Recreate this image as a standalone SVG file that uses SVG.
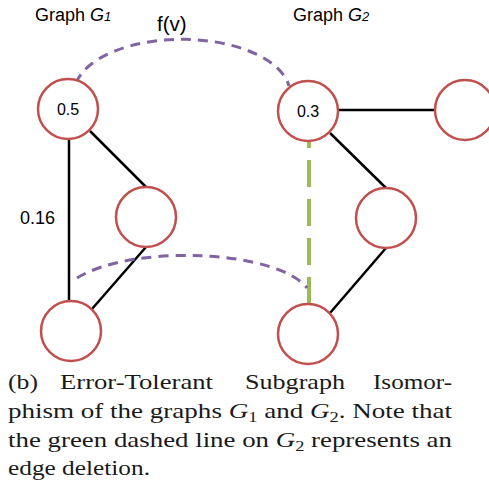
<svg xmlns="http://www.w3.org/2000/svg" width="489" height="489" viewBox="0 0 489 489">
<style>
.edge{stroke:#000;stroke-width:2.5;fill:none}
.map{stroke:#8064A2;stroke-width:3;fill:none;stroke-dasharray:10 7}
.del{stroke:#9BBB59;stroke-width:4;fill:none;stroke-dasharray:27 12}
.node circle{fill:#fff;stroke:#C0504D;stroke-width:2.5}
.lbl{font-family:"Liberation Sans",Arial,sans-serif;fill:#000}
.cap{font-family:"Liberation Serif","Times New Roman",serif;font-size:22px;fill:#1a1a1a}
</style>
<rect width="489" height="489" fill="#fff"/>
<g id="titles" class="lbl">
<text x="35" y="21" font-size="18">Graph <tspan font-style="italic">G</tspan><tspan font-style="italic" font-size="13">1</tspan></text>
<text x="293" y="21" font-size="18">Graph <tspan font-style="italic">G</tspan><tspan font-style="italic" font-size="13">2</tspan></text>
</g>
<g id="connectors">
<line class="edge" x1="69" y1="139" x2="69" y2="301"/>
<line class="edge" x1="90" y1="131" x2="146" y2="187"/>
<line class="edge" x1="146" y1="247" x2="92" y2="309"/>
<line class="edge" x1="338" y1="110" x2="435" y2="110"/>
<line class="edge" x1="330" y1="133" x2="386" y2="188"/>
<line class="edge" x1="386" y1="248" x2="330" y2="313"/>
<line class="del" x1="309" y1="304" x2="309" y2="142"/>
<path class="map" d="M76,83 A108,54 0 0 1 289,86"/>
<path class="map" d="M77,278 A125,44 0 0 1 307,288"/>
<text class="lbl" x="157" y="31" font-size="20.5">f(v)</text>
<text class="lbl" x="20" y="224" font-size="18">0.16</text>
</g>
<g id="nodeA" class="node"><circle cx="68" cy="109" r="30"/><text class="lbl" x="68" y="115" font-size="16" text-anchor="middle">0.5</text></g>
<g id="nodeD" class="node"><circle cx="146" cy="217" r="30"/></g>
<g id="nodeE" class="node"><circle cx="71" cy="331" r="30"/></g>
<g id="nodeB" class="node"><circle cx="308" cy="111" r="30"/><text class="lbl" x="308" y="117" font-size="16" text-anchor="middle">0.3</text></g>
<g id="nodeC" class="node"><circle cx="465" cy="110" r="30"/></g>
<g id="nodeF" class="node"><circle cx="386" cy="218" r="30"/></g>
<g id="nodeG" class="node"><circle cx="308" cy="334" r="30"/></g>
<g id="caption" class="cap">
<text x="8" y="389" textLength="30" lengthAdjust="spacingAndGlyphs">(b)</text>
<text x="60" y="389" textLength="153" lengthAdjust="spacingAndGlyphs">Error-Tolerant</text>
<text x="245" y="389" textLength="100" lengthAdjust="spacingAndGlyphs">Subgraph</text>
<text x="373" y="389" textLength="79" lengthAdjust="spacingAndGlyphs">Isomor-</text>
<text x="8" y="418" textLength="444" lengthAdjust="spacingAndGlyphs">phism of the graphs <tspan font-style="italic">G</tspan><tspan font-size="15" dy="4">1</tspan><tspan dy="-4"> and </tspan><tspan font-style="italic">G</tspan><tspan font-size="15" dy="4">2</tspan><tspan dy="-4">.  Note that</tspan></text>
<text x="8" y="447" textLength="444" lengthAdjust="spacingAndGlyphs">the green dashed line on <tspan font-style="italic">G</tspan><tspan font-size="15" dy="4">2</tspan><tspan dy="-4"> represents an</tspan></text>
<text x="8" y="475" textLength="142" lengthAdjust="spacingAndGlyphs">edge deletion.</text>
</g>
</svg>
